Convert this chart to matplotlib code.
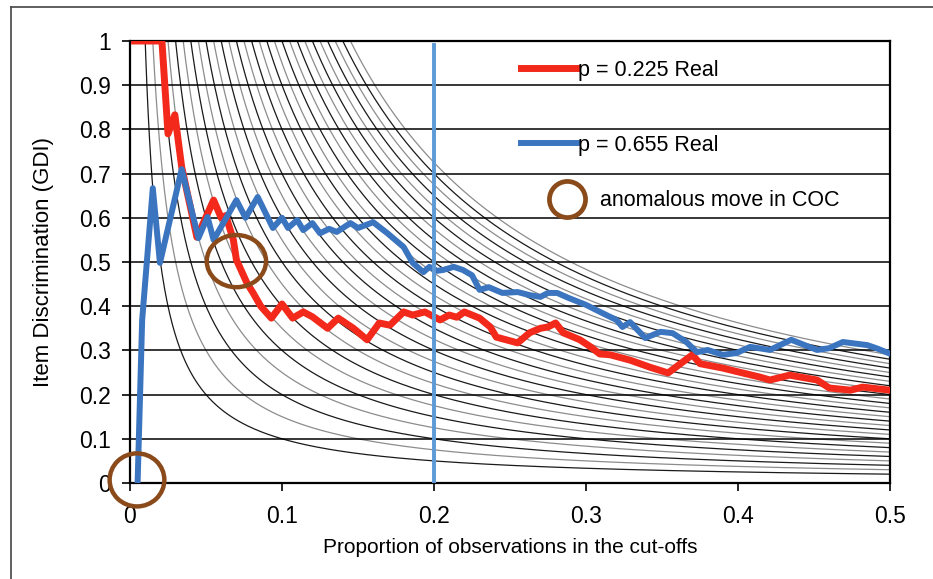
import numpy as np
import matplotlib.pyplot as plt
from matplotlib.lines import Line2D
from matplotlib.patches import Ellipse

plt.rcParams['font.family'] = ['Liberation Sans', 'DejaVu Sans']

# Data: p = 0.225 (red)
red_x = [0.003, 0.021, 0.025, 0.0295, 0.034, 0.044, 0.055, 0.06, 0.063, 0.068, 0.07,
         0.077, 0.081, 0.086, 0.093, 0.1, 0.107, 0.114, 0.12, 0.13, 0.137, 0.147, 0.156,
         0.164, 0.171, 0.18, 0.186, 0.194, 0.2, 0.204, 0.21, 0.215, 0.22, 0.23, 0.237,
         0.241, 0.255, 0.263, 0.27, 0.275, 0.28, 0.285, 0.296, 0.303, 0.309, 0.316, 0.329,
         0.342, 0.354, 0.37, 0.375, 0.39, 0.403, 0.414, 0.421, 0.434, 0.452, 0.46, 0.474,
         0.482, 0.5]
red_y = [1.0, 1.0, 0.79, 0.833, 0.715, 0.556, 0.64, 0.60, 0.605, 0.55, 0.505,
         0.452, 0.43, 0.40, 0.373, 0.405, 0.373, 0.387, 0.376, 0.35, 0.373, 0.35, 0.324,
         0.362, 0.357, 0.387, 0.38, 0.387, 0.376, 0.369, 0.38, 0.375, 0.387, 0.373, 0.353,
         0.33, 0.317, 0.34, 0.35, 0.353, 0.362, 0.34, 0.324, 0.308, 0.292, 0.29, 0.278,
         0.262, 0.249, 0.29, 0.27, 0.26, 0.249, 0.24, 0.233, 0.244, 0.233, 0.215, 0.21,
         0.217, 0.21]

# Data: p = 0.655 (blue)
blue_x = [0.005, 0.008, 0.015, 0.0197, 0.034, 0.045, 0.051, 0.055, 0.07, 0.076, 0.084,
          0.094, 0.1, 0.104, 0.11, 0.114, 0.12, 0.125, 0.131, 0.136, 0.145, 0.15, 0.16,
          0.169, 0.18, 0.186, 0.193, 0.197, 0.202, 0.206, 0.213, 0.219, 0.225, 0.23,
          0.236, 0.245, 0.255, 0.263, 0.27, 0.275, 0.281, 0.289, 0.3, 0.311, 0.32, 0.324,
          0.329, 0.339, 0.349, 0.357, 0.366, 0.373, 0.38, 0.39, 0.399, 0.408, 0.421,
          0.435, 0.452, 0.46, 0.469, 0.485, 0.491, 0.499]
blue_y = [0.0, 0.369, 0.667, 0.498, 0.71, 0.554, 0.602, 0.55, 0.64, 0.6, 0.647,
          0.577, 0.6, 0.577, 0.595, 0.572, 0.588, 0.565, 0.575, 0.568, 0.588, 0.577, 0.59,
          0.566, 0.534, 0.498, 0.477, 0.489, 0.48, 0.482, 0.489, 0.482, 0.47, 0.437,
          0.443, 0.43, 0.432, 0.425, 0.421, 0.43, 0.43, 0.418, 0.403, 0.384, 0.369, 0.353,
          0.364, 0.328, 0.342, 0.339, 0.319, 0.296, 0.301, 0.29, 0.294, 0.308, 0.301,
          0.324, 0.301, 0.305, 0.319, 0.312, 0.305, 0.294]

# constant levels of the background iso-curves (y = c / x)
iso_levels = np.arange(0.01, 0.1451, 0.005)

# anomalous moves: centre x, centre y, width, height
anom_x = [0.0046, 0.070]
anom_y = [0.007, 0.502]
anom_w = [0.036, 0.039]
anom_h = [0.12, 0.118]

cut_x = 0.2

fig = plt.figure(figsize=(9.33, 5.79), dpi=100)
ax = fig.add_axes([130 / 933, 96 / 579, 760 / 933, 442 / 579])

xs = np.linspace(0.002, 0.5, 600)
for i, c in enumerate(iso_levels):
    ax.plot(xs, c / xs, color='#1a1a1a' if i % 2 == 0 else '#8c8c8c', lw=0.9, zorder=1)

for yv in np.arange(0.1, 1.0, 0.1):
    ax.axhline(yv, color='black', lw=1.1, zorder=2)

ax.plot(red_x, red_y, color='#f2291b', lw=5.0, solid_joinstyle='round', zorder=3)
ax.plot(blue_x, blue_y, color='#3b75c0', lw=4.3, solid_joinstyle='round', zorder=4)
ax.plot([cut_x, cut_x], [0, 0.99], color='#5d9ad6', lw=2.8, zorder=5)

for cx, cy, w, h in zip(anom_x, anom_y, anom_w, anom_h):
    ax.add_patch(Ellipse((cx, cy), w, h, fill=False, edgecolor='#8a4a1a',
                         lw=3.2, zorder=6, clip_on=False))

ax.set_xlim(0, 0.5)
ax.set_ylim(0, 1)
ax.set_xticks([0, 0.1, 0.2, 0.3, 0.4, 0.5])
ax.set_xticklabels(['0', '0.1', '0.2', '0.3', '0.4', '0.5'])
ax.set_yticks(np.round(np.arange(0, 1.01, 0.1), 1))
ax.set_yticklabels(['0', '0.1', '0.2', '0.3', '0.4', '0.5', '0.6', '0.7', '0.8', '0.9', '1'])
ax.tick_params(length=6, width=1.2, labelsize=16.5, color='black')
ax.tick_params(axis='y', pad=8)
ax.tick_params(axis='x', pad=10)
for s in ax.spines.values():
    s.set_linewidth(1.6)
    s.set_color('black')

ax.set_xlabel('Proportion of observations in the cut-offs', fontsize=15)
ax.set_ylabel('Item Discrimination (GDI)', fontsize=16)
ax.xaxis.set_label_coords(0.5, -0.125)
ax.yaxis.set_label_coords(-0.1, 0.5)

# legend
h_red = Line2D([], [], color='#f2291b', lw=5.0)
h_blue = Line2D([], [], color='#3b75c0', lw=4.3)
leg1 = ax.legend([h_red, h_blue], ['p = 0.225 Real', 'p = 0.655 Real'],
                 loc='upper left', bbox_to_anchor=(0.514, 0.957), frameon=False,
                 fontsize=15.5, handlelength=2.6, handletextpad=0.05,
                 labelspacing=2.5, borderpad=0, borderaxespad=0)
ax.add_artist(leg1)
h_circ = Line2D([], [], ls='none', marker='o', markersize=26, mfc='none',
                mec='#8a4a1a', mew=3.4)
ax.legend([h_circ], ['anomalous move in COC'], loc='upper left',
          bbox_to_anchor=(0.556, 0.662), frameon=False, fontsize=15.5,
          handlelength=1.3, handletextpad=0.9, borderpad=0, borderaxespad=0)

# outer frame of the figure
fig.add_artist(Line2D([11 / 933, 11 / 933], [0, 1 - 7 / 579], color='#444444', lw=1.2))
fig.add_artist(Line2D([11 / 933, 1], [1 - 7 / 579, 1 - 7 / 579], color='#444444', lw=1.2))

fig.savefig('out.png', dpi=100)
